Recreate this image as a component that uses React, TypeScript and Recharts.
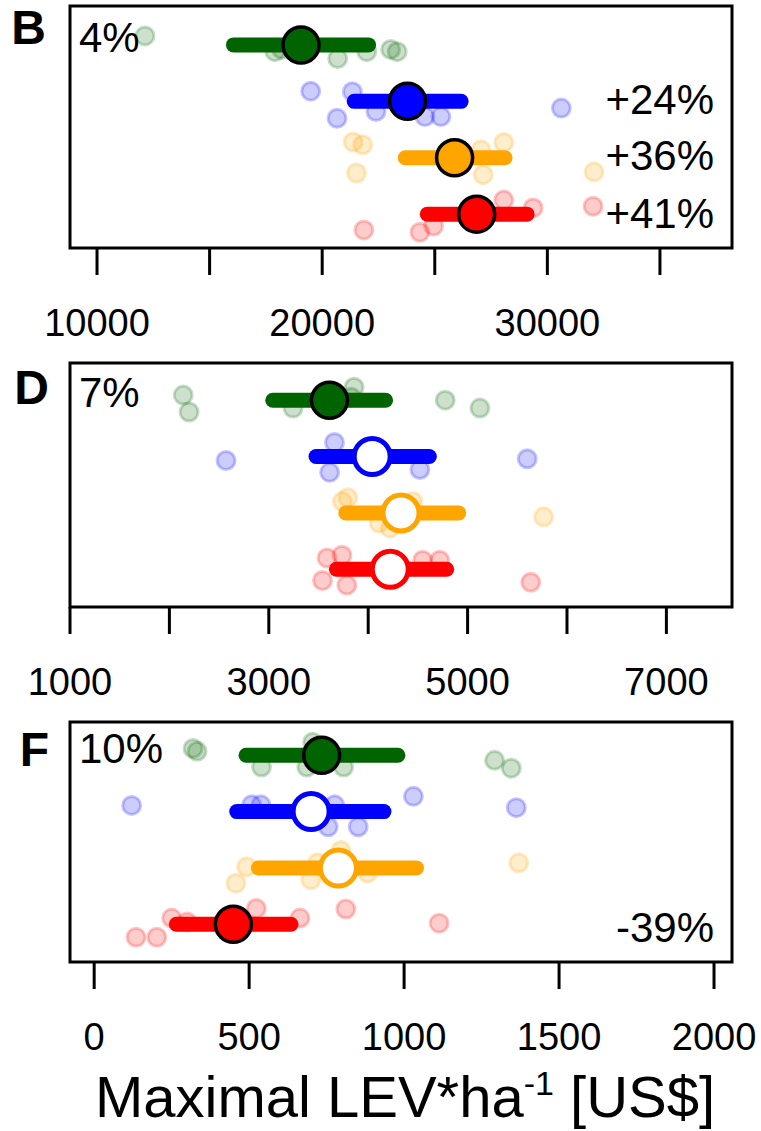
import { ScatterChart, Scatter, XAxis, YAxis, ReferenceArea, ReferenceDot } from 'recharts';

const FONT = '"Liberation Sans", Arial, Helvetica, sans-serif';

const colors = ['#006400', '#0000ff', '#ffa500', '#ff0000'];
const rows = [4, 3, 2, 1];

// panel B
const bX = [
  [12130, 17900, 18200, 20690, 21980, 23040, 23330],
  [19490, 21340, 20660, 22390, 24560, 25270, 30620],
  [21370, 21800, 21520, 27050, 27150, 28065, 32070],
  [21850, 24340, 24945, 26800, 28065, 29365, 32030],
];
const bY = [
  [4.16, 3.88, 3.92, 3.76, 3.88, 3.92, 3.88],
  [3.18, 3.17, 2.7, 2.82, 2.73, 2.73, 2.88],
  [2.28, 2.23, 1.73, 2.14, 1.7, 2.27, 1.75],
  [0.72, 0.68, 0.79, 0.89, 1.25, 1.11, 1.14],
];
const bMean = [19060, 23790, 25880, 26860];
const bLow = [16060, 21420, 23690, 24670];
const bHigh = [22060, 26170, 28120, 29100];
const bFilled = [true, true, true, true];
const bTicks = [10000, 15000, 20000, 25000, 30000, 35000];
const bTickLabels = [10000, 20000, 30000];
const bNotes = ['4%', '+24%', '+36%', '+41%'];

// panel D
const dX = [
  [2139, 2198, 3244, 3858, 3830, 4775, 5124],
  [2570, 3661, 3612, 4520, 5600],
  [3795, 3740, 4110, 4220, 4450, 5765],
  [3586, 3736, 3540, 3785, 4548, 4720, 5635],
];
const dY = [
  [4.09, 3.79, 3.86, 4.23, 4.05, 4.0, 3.86],
  [2.93, 3.25, 2.72, 2.77, 2.96],
  [2.27, 2.2, 1.82, 1.73, 2.2, 1.93],
  [1.2, 1.25, 0.8, 0.72, 1.16, 1.16, 0.77],
];
const dMean = [3610, 4040, 4330, 4222];
const dLow = [3040, 3475, 3775, 3680];
const dHigh = [4175, 4615, 4910, 4790];
const dFilled = [true, false, false, false];
const dTicks = [1000, 2000, 3000, 4000, 5000, 6000, 7000];
const dTickLabels = [1000, 3000, 5000, 7000];
const dNotes = ['7%', '', '', ''];

// panel F
const fX = [
  [319, 332, 540, 686, 705, 805, 1292, 1346],
  [121, 508, 538, 776, 755, 852, 1030, 1362],
  [492, 457, 699, 721, 796, 882, 1370],
  [135, 202, 250, 300, 523, 664, 812, 1113],
];
const fY = [
  [4.12, 4.07, 3.79, 3.79, 4.23, 3.79, 3.91, 3.77],
  [3.11, 3.12, 3.12, 3.12, 2.73, 2.73, 3.27, 3.07],
  [2.02, 1.73, 1.79, 2.09, 2.31, 1.91, 2.09],
  [0.77, 0.77, 1.11, 1.04, 1.28, 1.11, 1.27, 1.02],
];
const fMean = [734, 700, 788, 449];
const fLow = [490, 460, 530, 265];
const fHigh = [980, 935, 1040, 635];
const fFilled = [true, false, false, true];
const fTicks = [0, 500, 1000, 1500, 2000];
const fTickLabels = [0, 500, 1000, 1500, 2000];
const fNotes = ['10%', '', '', '-39%'];

const dot = (color: string) => (p: any) => (
  <circle cx={p.cx} cy={p.cy} r={9} fill={color} fillOpacity={0.2} stroke={color} strokeOpacity={0.22} strokeWidth={3} />
);

const meanDot = (color: string, filled: boolean) => (p: any) =>
  filled ? (
    <circle cx={p.cx} cy={p.cy} r={18} fill={color} stroke="#000" strokeWidth={3.5} />
  ) : (
    <circle cx={p.cx} cy={p.cy} r={18} fill="#fff" stroke={color} strokeWidth={5} />
  );

const noShape = () => <g />;

const renderTitle = (props: any) => {
  const vb = props.viewBox;
  return (
    <text x={vb.x + vb.width / 2 + 4} y={vb.y + 155} textAnchor="middle" fontSize={58} fontFamily={FONT} fill="#000">
      Maximal LEV*ha
      <tspan dy={-22} fontSize={34}>-1</tspan>
      <tspan dy={22}> [US$]</tspan>
    </text>
  );
};

function Panel(props: any) {
  const {
    top, height, marginTop, axisHeight, xDomain, yDomain, ticks, tickLabels,
    xs, ys, means, lows, highs, filled, letter, letterY, letterOffset, notes, noteY, title,
  } = props;
  return (
    <div style={{ position: 'absolute', left: 0, top }}>
      <ScatterChart width={761} height={height} margin={{ top: marginTop, right: 29, bottom: 0, left: 70 }}>
        <XAxis
          type="number"
          dataKey="x"
          domain={xDomain}
          ticks={ticks}
          interval={0}
          allowDataOverflow
          axisLine={false}
          tickLine={{ stroke: '#000', strokeWidth: 3 }}
          tickSize={27}
          tickMargin={34}
          height={axisHeight}
          tick={{ fontSize: 38, fill: '#000', fontFamily: FONT }}
          tickFormatter={(v: number) => (tickLabels.includes(v) ? String(v) : '')}
          label={title ? renderTitle : undefined}
        />
        <YAxis type="number" dataKey="y" domain={yDomain} hide allowDataOverflow />
        {colors.map((c, i) => (
          <Scatter
            key={'p' + i}
            data={xs[i].map((x: number, j: number) => ({ x, y: ys[i][j] }))}
            shape={dot(c)}
            isAnimationActive={false}
          />
        ))}
        {colors.map((c, i) => (
          <Scatter
            key={'e' + i}
            data={[{ x: lows[i], y: rows[i] }, { x: highs[i], y: rows[i] }]}
            line={{ stroke: c, strokeWidth: 15, strokeLinecap: 'round' }}
            shape={noShape}
            isAnimationActive={false}
          />
        ))}
        {colors.map((c, i) => (
          <Scatter
            key={'m' + i}
            data={[{ x: means[i], y: rows[i] }]}
            shape={meanDot(c, filled[i])}
            isAnimationActive={false}
          />
        ))}
        <ReferenceArea
          x1={xDomain[0]}
          x2={xDomain[1]}
          y1={yDomain[0]}
          y2={yDomain[1]}
          fill="none"
          fillOpacity={0}
          stroke="#000"
          strokeWidth={3}
          ifOverflow="visible"
        />
        <ReferenceDot
          x={xDomain[0]}
          y={letterY}
          r={0}
          fill="none"
          stroke="none"
          ifOverflow="visible"
          label={{ value: letter, position: 'left', offset: letterOffset, fontSize: 48, fontWeight: 'bold', fill: '#000', fontFamily: FONT }}
        />
        {notes.map((n: string, i: number) =>
          n ? (
            <ReferenceDot
              key={'n' + i}
              x={i === 0 ? xDomain[0] : xDomain[1]}
              y={noteY[i]}
              r={0}
              fill="none"
              stroke="none"
              ifOverflow="visible"
              label={{
                value: n,
                position: i === 0 ? 'right' : 'left',
                offset: i === 0 ? 9 : 18,
                fontSize: 42,
                fill: '#000',
                fontFamily: FONT,
              }}
            />
          ) : null
        )}
      </ScatterChart>
    </div>
  );
}

export default function App() {
  return (
    <div style={{ position: 'absolute', left: 0, top: 0, width: 761, height: 1131, background: '#fff', fontFamily: FONT }}>
      <Panel
        top={0}
        height={348}
        marginTop={6}
        axisHeight={100}
        xDomain={[8800, 38200]}
        yDomain={[0.4, 4.69]}
        ticks={bTicks}
        tickLabels={bTickLabels}
        xs={bX}
        ys={bY}
        means={bMean}
        lows={bLow}
        highs={bHigh}
        filled={bFilled}
        letter="B"
        letterY={4.32}
        letterOffset={24}
        notes={bNotes}
        noteY={[4.13, 3.04, 2.04, 1.02]}
      />
      <Panel
        top={348}
        height={359}
        marginTop={15}
        axisHeight={100}
        xDomain={[1000, 7660]}
        yDomain={[0.33, 4.66]}
        ticks={dTicks}
        tickLabels={dTickLabels}
        xs={dX}
        ys={dY}
        means={dMean}
        lows={dLow}
        highs={dHigh}
        filled={dFilled}
        letter="D"
        letterY={4.23}
        letterOffset={21}
        notes={dNotes}
        noteY={[4.14, 3, 2, 1]}
      />
      <Panel
        top={707}
        height={424}
        marginTop={15}
        axisHeight={169}
        xDomain={[-78, 2058]}
        yDomain={[0.33, 4.59]}
        ticks={fTicks}
        tickLabels={fTickLabels}
        xs={fX}
        ys={fY}
        means={fMean}
        lows={fLow}
        highs={fHigh}
        filled={fFilled}
        letter="F"
        letterY={4.12}
        letterOffset={21}
        notes={fNotes}
        noteY={[4.12, 3, 2, 0.95]}
        title
      />
    </div>
  );
}
